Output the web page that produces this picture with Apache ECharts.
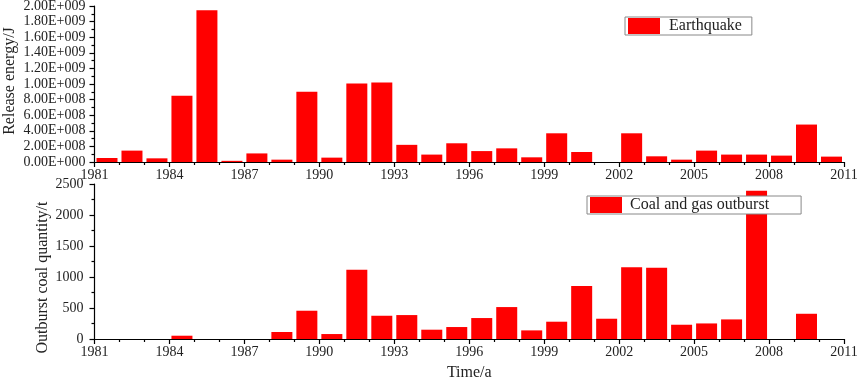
<!DOCTYPE html>
<html>
<head>
<meta charset="utf-8">
<script src="https://cdn.jsdelivr.net/npm/echarts@6/dist/echarts.min.js"></script>
<style>
  html, body { margin: 0; padding: 0; background: #fff; }
  #chart { width: 858px; height: 380px; }
</style>
</head>
<body>
<div id="chart"></div>
<script>
// years of the bars (each bar fills its year)
var years = ["1981", "1982", "1983", "1984", "1985", "1986", "1987", "1988", "1989", "1990",
             "1991", "1992", "1993", "1994", "1995", "1996", "1997", "1998", "1999", "2000",
             "2001", "2002", "2003", "2004", "2005", "2006", "2007", "2008", "2009", "2010"];
// release energy, J
var quakeEnergy = [0.51e8, 1.46e8, 0.47e8, 8.5e8, 19.45e8, 0.15e8, 1.1e8, 0.3e8, 9.0e8, 0.56e8,
                   10.05e8, 10.2e8, 2.2e8, 0.95e8, 2.4e8, 1.4e8, 1.75e8, 0.6e8, 3.68e8, 1.28e8,
                   0, 3.68e8, 0.73e8, 0.3e8, 1.46e8, 0.95e8, 0.95e8, 0.82e8, 4.8e8, 0.69e8];
// outburst coal quantity, t
var outburstCoal = [0, 0, 0, 53, 0, 0, 0, 113, 456, 80,
                    1116, 375, 386, 150, 193, 338, 515, 139, 279, 853,
                    327, 1159, 1148, 230, 251, 316, 2393, 0, 407, 0];
// time axis ticks
var timeMin = 1981, timeMax = 2011, timeStep = 3;

var FONT = "Liberation Serif";
var txt = "#222";

// 2.00E+009 style labels
function sciLabel(v) {
  if (v === 0) return "0.00E+000";
  var e = Math.floor(Math.log10(v) + 1e-9);
  var m = v / Math.pow(10, e);
  var es = String(e);
  while (es.length < 3) es = "0" + es;
  return m.toFixed(2) + "E+" + es;
}

// hidden band axis that places the bars
function bandAxis(gridIndex) {
  return {
    type: "category", gridIndex: gridIndex, data: years,
    position: "top", boundaryGap: true, show: false
  };
}

// visible time axis with ticks at year boundaries
function timeAxis(gridIndex, name) {
  return {
    type: "value",
    gridIndex: gridIndex,
    position: "bottom",
    min: timeMin, max: timeMax, interval: timeStep,
    name: name || "",
    nameLocation: "middle",
    nameGap: 26,
    nameMoveOverlap: false,
    nameTextStyle: { fontFamily: FONT, fontSize: 16, color: txt },
    splitLine: { show: false },
    axisLine: { onZero: false, lineStyle: { color: "#000", width: 1.2 } },
    axisTick: { length: 5, lineStyle: { color: "#000", width: 1.2 } },
    minorTick: { show: true, splitNumber: 3, length: 3, lineStyle: { color: "#000", width: 1.2 } },
    axisLabel: {
      margin: 6, fontFamily: FONT, fontSize: 14, color: txt,
      showMinLabel: true, showMaxLabel: true, hideOverlap: false,
      formatter: function (v) { return String(v); }
    }
  };
}

function yAxisCfg(gridIndex, max, step, name, gap, pad, minorSplit, fmt, margin) {
  return {
    type: "value", gridIndex: gridIndex,
    min: 0, max: max, interval: step,
    name: name,
    nameLocation: "middle", nameGap: gap,
    nameMoveOverlap: false,
    nameTextStyle: { fontFamily: FONT, fontSize: 16, color: txt, padding: pad },
    splitLine: { show: false },
    axisLine: { show: true, lineStyle: { color: "#000", width: 1.2 } },
    axisTick: { show: true, length: 5, lineStyle: { color: "#000", width: 1.2 } },
    minorTick: { show: true, splitNumber: minorSplit, length: 3, lineStyle: { color: "#000", width: 1.2 } },
    axisLabel: { margin: margin, fontFamily: FONT, fontSize: 14, color: txt, formatter: fmt }
  };
}

var chart = echarts.init(document.getElementById("chart"));
var option = {
  animation: false,
  backgroundColor: "#fff",
  grid: [
    { left: 94.5, right: 14, top: 6, height: 156, containLabel: false, outerBoundsMode: "none" },
    { left: 94.5, right: 14, top: 184, height: 155, containLabel: false, outerBoundsMode: "none" }
  ],
  legend: [
    {
      data: ["Earthquake"],
      left: 625, top: 17,
      padding: [1, 10, 1, 3],
      itemWidth: 32, itemHeight: 16,
      icon: "rect",
      borderColor: "#888", borderWidth: 1,
      backgroundColor: "#fff",
      textStyle: { fontFamily: FONT, fontSize: 16, color: txt, padding: [0, 0, 0, 4] }
    },
    {
      data: ["Coal and gas outburst"],
      left: 587, top: 196,
      padding: [1, 32, 1, 3],
      itemWidth: 32, itemHeight: 16,
      icon: "rect",
      borderColor: "#888", borderWidth: 1,
      backgroundColor: "#fff",
      textStyle: { fontFamily: FONT, fontSize: 16, color: txt, padding: [0, 0, 0, 3] }
    }
  ],
  xAxis: [bandAxis(0), timeAxis(0), bandAxis(1), timeAxis(1, "Time/a")],
  yAxis: [
    yAxisCfg(0, 2e9, 2e8, "Release energy/J", 77, [0, 0, 0, 6], 2, sciLabel, 9),
    yAxisCfg(1, 2500, 500, "Outburst coal quantity/t", 44, [0, 32, 0, 0], 2,
             function (v) { return String(v); }, 11)
  ],
  series: [
    {
      name: "Earthquake",
      type: "bar",
      xAxisIndex: 0, yAxisIndex: 0,
      barWidth: 21,
      itemStyle: { color: "#ff0000" },
      data: quakeEnergy
    },
    {
      name: "Coal and gas outburst",
      type: "bar",
      xAxisIndex: 2, yAxisIndex: 1,
      barWidth: 21,
      itemStyle: { color: "#ff0000" },
      data: outburstCoal
    }
  ]
};
chart.setOption(option);
</script>
</body>
</html>
